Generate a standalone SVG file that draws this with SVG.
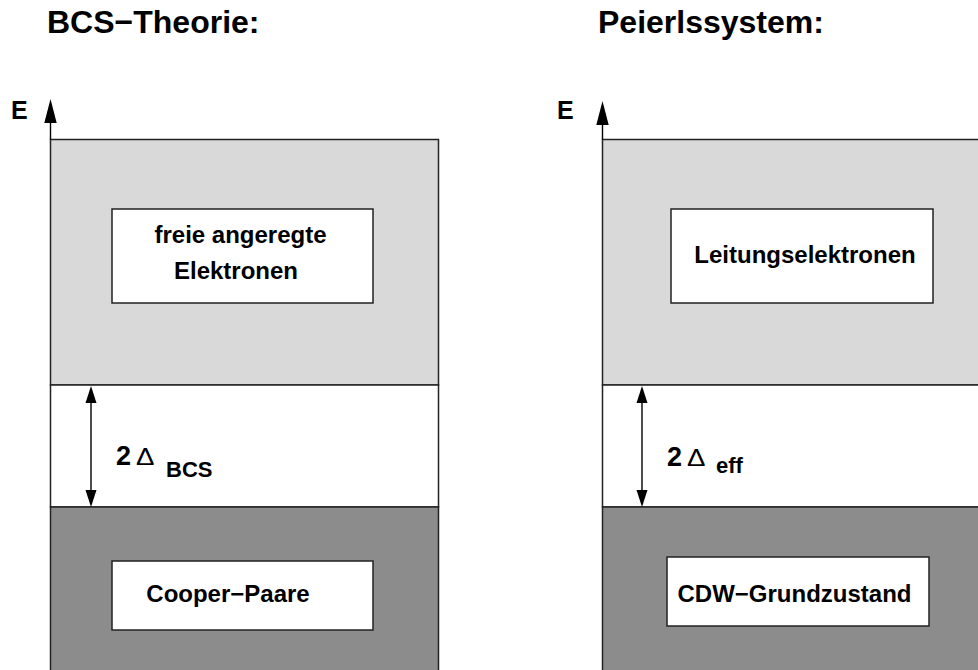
<svg xmlns="http://www.w3.org/2000/svg" width="978" height="670" viewBox="0 0 978 670">
<style>
text{font-family:"Liberation Sans",Arial,sans-serif;fill:#000}
.b{font-weight:bold}
.t{font-size:32px;font-weight:bold}
.l{font-size:24px;font-weight:bold}
.e{font-size:25px;font-weight:bold}
.two{font-size:27px;font-weight:bold}
.sym{font-size:24px;font-weight:normal}
.sub{font-size:22px;font-weight:bold}
.band{stroke:#222;stroke-width:1.5}
.light{fill:#d9d9d9}
.gap{fill:#ffffff}
.dark{fill:#8c8c8c}
.box{fill:#fff;stroke:#222;stroke-width:1.5}
.ax{stroke:#000;stroke-width:1.4;fill:none}
.head{fill:#000}
</style>
<rect width="978" height="670" fill="#fff"/>

<text class="t" x="47" y="33">BCS−Theorie:</text>
<text class="t" x="598" y="33">Peierlssystem:</text>

<g id="bcs-upper">
<rect class="band light" x="50.5" y="139.5" width="388" height="245.5"/>
<rect class="box" x="112" y="209" width="261" height="94"/>
<text class="l" x="240.5" y="243" text-anchor="middle">freie angeregte</text>
<text class="l" x="236" y="279" text-anchor="middle">Elektronen</text>
</g>
<g id="bcs-gap">
<rect class="band gap" x="50.5" y="385" width="388" height="122"/>
</g>
<g id="bcs-lower">
<rect class="band dark" x="50.5" y="507" width="388" height="180"/>
<rect class="box" x="112" y="561" width="261" height="69"/>
<text class="l" x="228" y="602" text-anchor="middle">Cooper−Paare</text>
</g>

<g id="peierls-upper">
<rect class="band light" x="602.5" y="139.5" width="400" height="245.5"/>
<rect class="box" x="671" y="209" width="262" height="94"/>
<text class="l" x="805" y="263" text-anchor="middle">Leitungselektronen</text>
</g>
<g id="peierls-gap">
<rect class="band gap" x="602.5" y="385" width="400" height="122"/>
</g>
<g id="peierls-lower">
<rect class="band dark" x="602.5" y="507" width="400" height="180"/>
<rect class="box" x="667" y="557" width="262" height="69"/>
<text class="l" x="794.5" y="602" text-anchor="middle">CDW−Grundzustand</text>
</g>

<g id="connectors">
<line class="ax" x1="50.5" y1="140" x2="50.5" y2="120"/>
<polygon class="head" points="50.5,99 44.3,123 56.7,123"/>
<line class="ax" x1="602.5" y1="140" x2="602.5" y2="120"/>
<polygon class="head" points="602.5,101 596.3,125 608.7,125"/>

<line class="ax" x1="91" y1="400" x2="91" y2="492"/>
<polygon class="head" points="91,386 85.5,403 96.5,403"/>
<polygon class="head" points="91,507 85.5,490 96.5,490"/>

<line class="ax" x1="642" y1="400" x2="642" y2="492"/>
<polygon class="head" points="642,386 636.5,403 647.5,403"/>
<polygon class="head" points="642,507 636.5,490 647.5,490"/>
</g>

<text class="e" x="11" y="119">E</text>
<text class="e" x="557" y="119">E</text>

<text class="two" x="116" y="465">2</text>
<text class="sym" transform="translate(136,465) scale(1.15,1)">Δ</text>
<text class="sub" x="166" y="477">BCS</text>

<text class="two" x="667" y="466">2</text>
<text class="sym" transform="translate(687,466) scale(1.15,1)">Δ</text>
<text class="sub" x="716" y="473">eff</text>
</svg>
